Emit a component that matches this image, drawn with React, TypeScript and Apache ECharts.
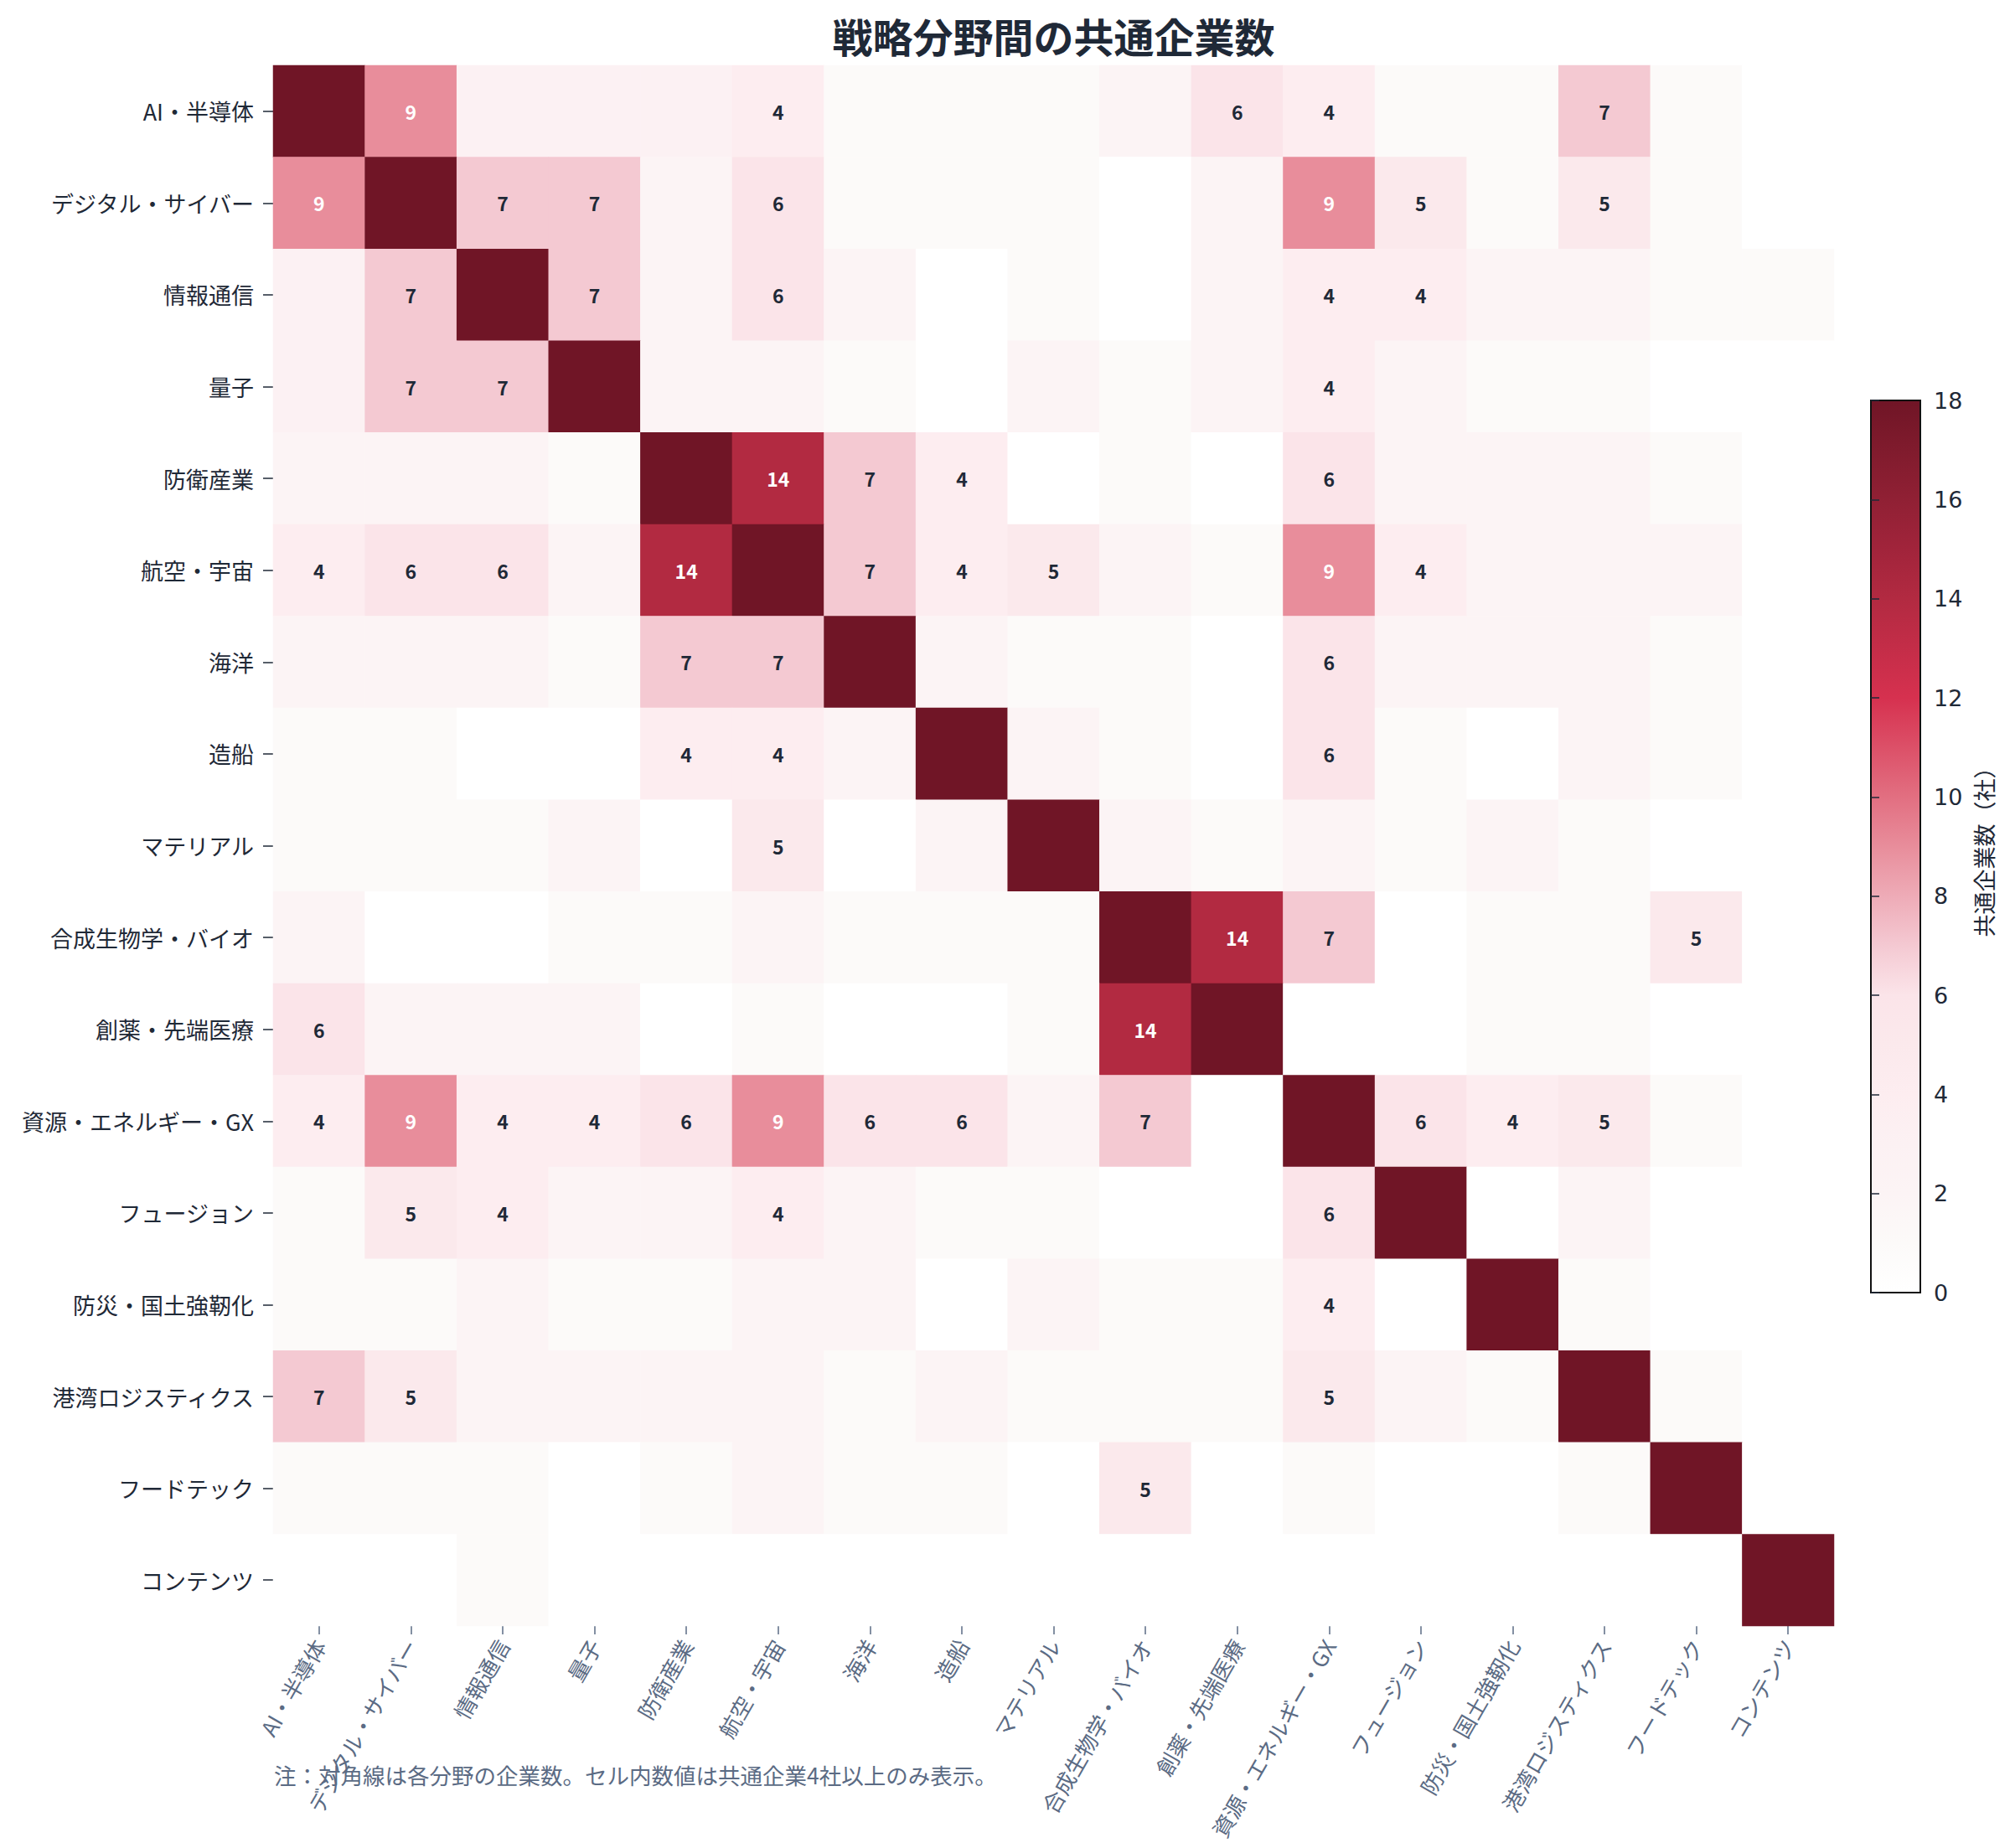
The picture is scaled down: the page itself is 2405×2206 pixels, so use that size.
import React, { useEffect, useRef } from "react";
import * as echarts from "echarts";

// 戦略分野（行・列共通）
const fields = [
  "AI・半導体",
  "デジタル・サイバー",
  "情報通信",
  "量子",
  "防衛産業",
  "航空・宇宙",
  "海洋",
  "造船",
  "マテリアル",
  "合成生物学・バイオ",
  "創薬・先端医療",
  "資源・エネルギー・GX",
  "フュージョン",
  "防災・国土強靭化",
  "港湾ロジスティクス",
  "フードテック",
  "コンテンツ",
];

// 分野間の共通企業数（対角は上限18で表示）
const rowAI = [18, 9, 3, 3, 3, 4, 1, 1, 1, 2, 6, 4, 1, 1, 7, 1, 0];
const rowDigital = [9, 18, 7, 7, 2, 6, 1, 1, 1, 0, 2, 9, 5, 1, 5, 1, 0];
const rowICT = [3, 7, 18, 7, 2, 6, 2, 0, 1, 0, 2, 4, 4, 2, 2, 1, 1];
const rowQuantum = [3, 7, 7, 18, 2, 2, 1, 0, 2, 1, 2, 4, 2, 1, 1, 0, 0];
const rowDefense = [2, 2, 2, 1, 18, 14, 7, 4, 0, 1, 0, 6, 2, 2, 2, 1, 0];
const rowAero = [4, 6, 6, 2, 14, 18, 7, 4, 5, 2, 1, 9, 4, 2, 2, 2, 0];
const rowOcean = [2, 2, 2, 1, 7, 7, 18, 2, 1, 1, 0, 6, 2, 2, 2, 1, 0];
const rowShip = [1, 1, 0, 0, 4, 4, 2, 18, 2, 1, 0, 6, 1, 0, 2, 1, 0];
const rowMaterial = [1, 1, 1, 2, 0, 5, 0, 2, 18, 2, 1, 2, 1, 2, 1, 0, 0];
const rowBio = [2, 0, 0, 1, 1, 2, 1, 1, 1, 18, 14, 7, 0, 1, 1, 5, 0];
const rowPharma = [6, 2, 2, 2, 0, 1, 0, 0, 1, 14, 18, 0, 0, 1, 1, 0, 0];
const rowGX = [4, 9, 4, 4, 6, 9, 6, 6, 2, 7, 0, 18, 6, 4, 5, 1, 0];
const rowFusion = [1, 5, 4, 2, 2, 4, 2, 1, 1, 0, 0, 6, 18, 0, 2, 0, 0];
const rowDisaster = [1, 1, 2, 1, 1, 2, 2, 0, 2, 1, 1, 4, 0, 18, 1, 0, 0];
const rowPort = [7, 5, 2, 2, 2, 2, 1, 2, 1, 1, 1, 5, 2, 1, 18, 1, 0];
const rowFood = [1, 1, 1, 0, 1, 2, 1, 1, 0, 5, 0, 1, 0, 0, 1, 18, 0];
const rowContent = [0, 0, 1, 0, 0, 0, 0, 0, 0, 0, 0, 0, 0, 0, 0, 0, 18];

const matrix = [
  rowAI, rowDigital, rowICT, rowQuantum, rowDefense, rowAero, rowOcean, rowShip,
  rowMaterial, rowBio, rowPharma, rowGX, rowFusion, rowDisaster, rowPort, rowFood, rowContent,
];

const colorbarTicks = [0, 2, 4, 6, 8, 10, 12, 14, 16, 18];

// 0〜18社の色（1社刻み）
const palette = [
  "#ffffff", "#fcfaf9", "#fcf4f5", "#fcf1f3", "#fdedf0", "#fbe9ec", "#fbe4e9",
  "#f4c9d2", "#eeabb7", "#e88d9b", "#e26f81", "#dc5068", "#d6314f", "#c42d48",
  "#b22a41", "#a1243b", "#902034", "#801b2d", "#701526",
];

const JP = '"Noto Sans CJK JP", "Noto Sans", sans-serif';
const DARK = "#1f2937";
const SLATE = "#5b6b84";

// レイアウト
const G = { left: 326, top: 78, size: 1863 };
const CB = { left: 2233, top: 478, width: 59, height: 1065 };

export default function App() {
  const ref = useRef<HTMLDivElement>(null);

  useEffect(() => {
    if (!ref.current) return;
    const chart = echarts.init(ref.current, undefined, { renderer: "svg" });

    const data: any[] = [];
    matrix.forEach((row, i) => {
      row.forEach((v, j) => {
        const show = i !== j && v >= 4;
        data.push({
          value: [j, i, v],
          label: { show, color: v >= 9 ? "#ffffff" : DARK },
        });
      });
    });

    const stops = palette.map((c, k) => ({ offset: k / 18, color: c })).reverse()
      .map((s) => ({ offset: 1 - s.offset, color: s.color }));

    chart.setOption({
      animation: false,
      backgroundColor: "#ffffff",
      textStyle: { fontFamily: JP },
      grid: [
        { left: G.left, top: G.top, width: G.size, height: G.size },
        {
          left: CB.left, top: CB.top, width: CB.width, height: CB.height,
          show: true,
          backgroundColor: new echarts.graphic.LinearGradient(0, 0, 0, 1, stops),
          borderColor: "#111111",
          borderWidth: 2,
        },
      ],
      xAxis: [
        {
          type: "category",
          gridIndex: 0,
          data: fields,
          position: "bottom",
          axisLine: { show: false },
          axisTick: { show: true, alignWithLabel: true, length: 10, lineStyle: { color: SLATE, width: 1.5 } },
          axisLabel: {
            interval: 0, rotate: 60, margin: 18, color: SLATE, fontSize: 26, fontFamily: JP,
          },
          splitLine: { show: false },
        },
        { type: "value", gridIndex: 1, show: false, min: 0, max: 1 },
      ],
      yAxis: [
        {
          type: "category",
          gridIndex: 0,
          data: fields,
          inverse: true,
          axisLine: { show: false },
          axisTick: { show: true, alignWithLabel: true, length: 12, lineStyle: { color: DARK, width: 1.5 } },
          axisLabel: { interval: 0, margin: 23, color: DARK, fontSize: 27, fontFamily: JP },
          splitLine: { show: false },
        },
        {
          type: "value",
          gridIndex: 1,
          position: "right",
          min: colorbarTicks[0],
          max: colorbarTicks[colorbarTicks.length - 1],
          interval: 2,
          axisLine: { show: false },
          axisTick: { show: true, length: 10, lineStyle: { color: DARK, width: 1.5 } },
          axisLabel: {
            margin: 16, color: DARK, fontSize: 27, fontFamily: '"DejaVu Sans", sans-serif',
          },
          splitLine: { show: false },
        },
      ],
      visualMap: {
        show: false,
        type: "continuous",
        seriesIndex: 0,
        dimension: 2,
        min: 0,
        max: 18,
        inRange: { color: palette },
      },
      series: [
        {
          type: "heatmap",
          xAxisIndex: 0,
          yAxisIndex: 0,
          data,
          label: {
            fontSize: 23,
            fontWeight: "bold",
            fontFamily: JP,
            formatter: (p: any) => String(p.value[2]),
          },
          itemStyle: { borderWidth: 0 },
          emphasis: { disabled: true },
        },
        { type: "scatter", xAxisIndex: 1, yAxisIndex: 1, data: [], silent: true },
      ],
      graphic: [
        {
          type: "text",
          x: G.left + G.size / 2,
          y: 42,
          style: {
            text: "戦略分野間の共通企業数",
            fill: DARK,
            font: `bold 48px ${JP}`,
            align: "center",
            verticalAlign: "middle",
          },
        },
        {
          type: "text",
          x: 2367,
          y: CB.top + CB.height / 2,
          rotation: Math.PI / 2,
          style: {
            text: "共通企業数（社）",
            fill: DARK,
            font: `27px ${JP}`,
            align: "center",
            verticalAlign: "middle",
          },
        },
        {
          type: "text",
          x: 327,
          y: 2118,
          style: {
            text: "注：対角線は各分野の企業数。セル内数値は共通企業4社以上のみ表示。",
            fill: SLATE,
            font: `26.5px ${JP}`,
            align: "left",
            verticalAlign: "middle",
          },
        },
      ],
    });

    return () => chart.dispose();
  }, []);

  return (
    <div
      ref={ref}
      style={{ position: "absolute", left: 0, top: 0, width: 2405, height: 2206 }}
    />
  );
}
